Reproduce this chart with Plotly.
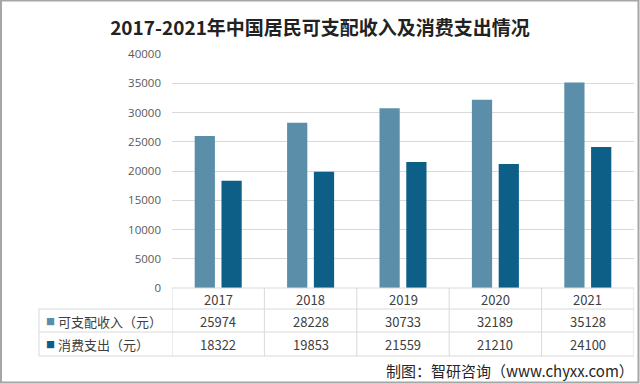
import plotly.graph_objects as go

years = ["2017", "2018", "2019", "2020", "2021"]
income = [25974, 28228, 30733, 32189, 35128]
spending = [18322, 19853, 21559, 21210, 24100]
series_names = ["可支配收入（元）", "消费支出（元）"]
colors = ["#5b8fa9", "#0d5f87"]
title_text = "2017-2021年中国居民可支配收入及消费支出情况"
source_text = "制图：智研咨询（www.chyxx.com）"

W, H = 640, 384
L, R, T, B = 172, 6, 54, 96
pw = W - L - R
ph = H - T - B

def px(x):
    return (x - L) / pw

def py(y):
    return (H - B - y) / ph

CJK = "Noto Sans CJK SC"
fig = go.Figure()
for name, vals, c in zip(series_names, [income, spending], colors):
    fig.add_trace(go.Bar(x=years, y=vals, name=name, marker=dict(color=c, line=dict(width=0)), hoverinfo="skip"))

grid = "#d9d9d9"
shapes = []
shapes.append(dict(type="line", xref="paper", yref="paper", x0=0, x1=1, y0=0, y1=0, line=dict(color=grid, width=1)))
for yy in [309, 332, 356]:
    shapes.append(dict(type="line", xref="paper", yref="paper", x0=px(39), x1=1, y0=py(yy), y1=py(yy), line=dict(color=grid, width=1)))
for i in range(len(years) + 1):
    shapes.append(dict(type="line", xref="x", yref="paper", x0=i - 0.5, x1=i - 0.5, y0=0, y1=py(356), line=dict(color=grid, width=1)))
shapes.append(dict(type="line", xref="paper", yref="paper", x0=px(39), x1=px(39), y0=py(309), y1=py(356), line=dict(color=grid, width=1)))
shapes.append(dict(type="rect", xref="paper", yref="paper", x0=px(1), x1=px(638.5), y0=py(0.5), y1=py(382.5), line=dict(color="#a6a6a6", width=2)))

ann = []
txt = "#404040"

def A(x, y, text, size, color, xref="paper", xanchor="center", family=CJK):
    ann.append(dict(x=x, y=y, xref=xref, yref="paper", text=text, showarrow=False,
                    xanchor=xanchor, yanchor="middle", font=dict(family=family, size=size, color=color)))

for i, y in enumerate(years):
    A(i, py(299), y, 13, txt, xref="x")
    A(i, py(321), str(income[i]), 13, txt, xref="x")
    A(i, py(344), str(spending[i]), 13, txt, xref="x")
for name, c, yy in zip(series_names, colors, [321, 344]):
    A(px(44), py(yy), "■", 9, c, xanchor="left")
    A(px(56), py(yy), name, 13, txt, xanchor="left")

A(px(636), py(370), source_text, 15, "#262626", xanchor="right")

fig.update_layout(
    width=W, height=H,
    margin=dict(l=L, r=R, t=T, b=B),
    paper_bgcolor="white", plot_bgcolor="white",
    title=dict(text="<b>" + title_text + "</b>", x=0.5, xref="container", xanchor="center",
               y=1 - 28 / H, yref="container", yanchor="middle",
               font=dict(family=CJK, size=19, color="#222222")),
    showlegend=False,
    barmode="group", bargap=0.42, bargroupgap=0.245,
    xaxis=dict(type="category", showticklabels=False, showgrid=False, zeroline=False, showline=False, ticks="",
               range=[-0.5, 4.5]),
    yaxis=dict(range=[0, 40000], dtick=5000, tickformat="d", showgrid=True, gridcolor=grid, gridwidth=1,
               zeroline=False, showline=False, ticks="", ticklabelstandoff=10,
               tickfont=dict(family="Open Sans", size=11.5, color="#595959")),
    shapes=shapes, annotations=ann,
)
fig.write_html("out.html", config={"displayModeBar": False, "staticPlot": True},
               post_script="document.body.style.margin='0';document.body.style.overflow='hidden';")
